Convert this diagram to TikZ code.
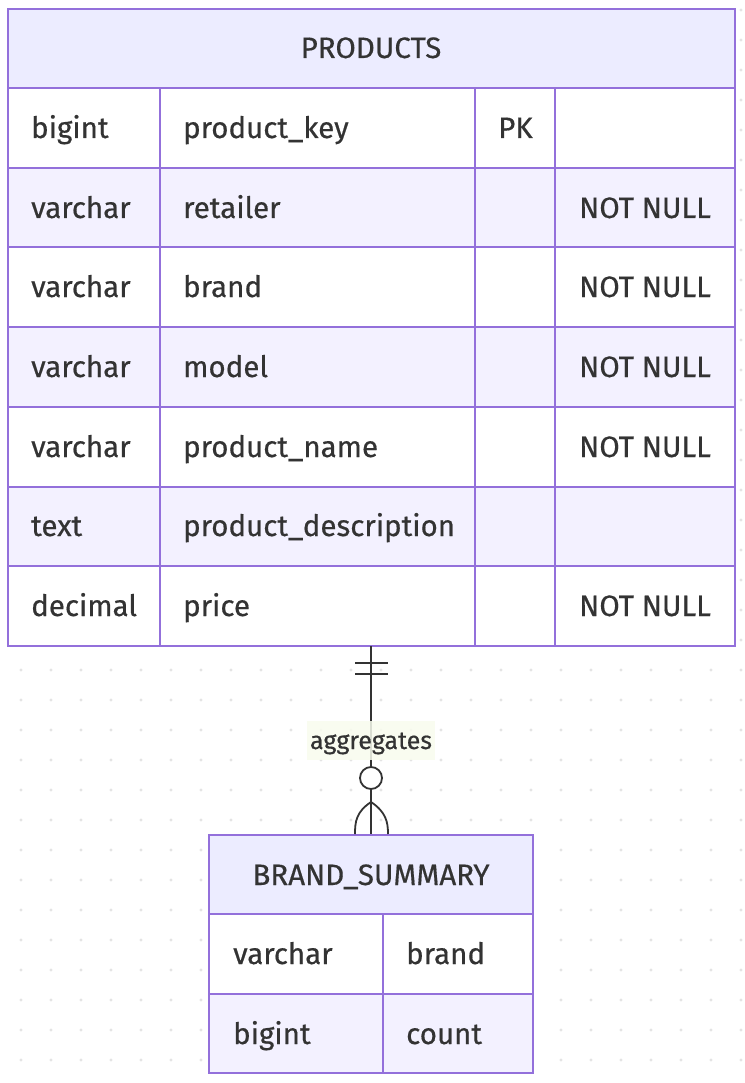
\documentclass[tikz,border=0pt]{standalone}
\usepackage{fontspec}
\setmainfont{Fira Sans}[FakeBold=0.5]
\definecolor{bord}{HTML}{9370DB}
\definecolor{hdr}{HTML}{ECECFF}
\definecolor{alt}{HTML}{F3F1FF}
\definecolor{txt}{HTML}{333333}
\definecolor{dotc}{HTML}{E4E4E4}
\definecolor{lblbg}{HTML}{F8FCEE}
\tikzset{
  cell/.style={draw=bord, line width=2pt},
  celltxt/.style={anchor=base west, inner sep=0pt, text=txt, font=\fontsize{29.5}{34}\selectfont},
  hdrtxt/.style={anchor=base, inner sep=0pt, text=txt, font=\fontsize{29.5}{34}\selectfont},
  conn/.style={draw=txt, line width=1.8pt},
}
\begin{document}
\begin{tikzpicture}[x=1pt,y=-1pt]
\useasboundingbox (0,0) rectangle (744,1083);
\fill[white] (0,0) rectangle (744,1083);
% dotted background
\foreach \i in {0,...,24} {
  \foreach \j in {0,...,35} {
    \fill[dotc] (21+30*\i,10+30*\j) circle (1.6);
  }
}
% ---------- PRODUCTS ----------
\fill[hdr] (8,9) rectangle (735,88);
\foreach \r/\c in {0/white,1/alt,2/white,3/alt,4/white,5/alt,6/white} {
  \fill[\c] (8,88+79.7*\r) rectangle (735,88+79.7*\r+79.7);
}
\draw[cell] (8,9) rectangle (735,646);
\foreach \r in {1,...,7} { \draw[cell] (8,88+79.7*\r-79.7) -- (735,88+79.7*\r-79.7); }
\draw[cell] (160,88) -- (160,646);
\draw[cell] (475,88) -- (475,646);
\draw[cell] (555,88) -- (555,646);
\node[hdrtxt] (ptitle) at (371,58) {PRODUCTS};
\node[celltxt] (p1a) at (31,138) {bigint};
\node[celltxt] (p1b) at (183,138) {product\_key};
\node[celltxt] (p1c) at (498,138) {PK};
\node[celltxt] (p2a) at (31,218) {varchar};
\node[celltxt] (p2b) at (183,218) {retailer};
\node[celltxt] (p2d) at (579,218) {NOT NULL};
\node[celltxt] (p3a) at (31,297) {varchar};
\node[celltxt] (p3b) at (183,297) {brand};
\node[celltxt] (p3d) at (579,297) {NOT NULL};
\node[celltxt] (p4a) at (31,377) {varchar};
\node[celltxt] (p4b) at (183,377) {model};
\node[celltxt] (p4d) at (579,377) {NOT NULL};
\node[celltxt] (p5a) at (31,457) {varchar};
\node[celltxt] (p5b) at (183,457) {product\_name};
\node[celltxt] (p5d) at (579,457) {NOT NULL};
\node[celltxt] (p6a) at (31,536) {text};
\node[celltxt] (p6b) at (183,536) {product\_description};
\node[celltxt] (p7a) at (31,616) {decimal};
\node[celltxt] (p7b) at (183,616) {price};
\node[celltxt] (p7d) at (579,616) {NOT NULL};
\coordinate (ptop) at (371,646);
% ---------- BRAND_SUMMARY ----------
\fill[hdr] (209,835) rectangle (533,914);
\fill[white] (209,914) rectangle (533,994);
\fill[alt] (209,994) rectangle (533,1073);
\draw[cell] (209,835) rectangle (533,1073);
\draw[cell] (209,914) -- (533,914);
\draw[cell] (209,994) -- (533,994);
\draw[cell] (383,914) -- (383,1073);
\node[hdrtxt] (btitle) at (371,885) {BRAND\_SUMMARY};
\node[celltxt] (b1a) at (233,964) {varchar};
\node[celltxt] (b1b) at (406,964) {brand};
\node[celltxt] (b2a) at (233,1044) {bigint};
\node[celltxt] (b2b) at (406,1044) {count};
\coordinate (btop) at (371,834);
% ---------- connector ----------
\draw[conn] (ptop) -- (btop);
\draw[conn] (355,663) -- (388,663);
\draw[conn] (355,674) -- (388,674);
\draw[conn, fill=white] (371,778) circle (11);
\draw[conn] (371,802) .. controls (356,812) and (355,822) .. (355,834);
\draw[conn] (371,802) .. controls (386,812) and (388,822) .. (388,834);
\fill[lblbg, opacity=0.85] (307,721) rectangle (435,760);
\node[anchor=base, inner sep=0pt, text=txt, font=\fontsize{25}{29}\selectfont] (lbl) at (371,749) {aggregates};
\end{tikzpicture}
\end{document}
